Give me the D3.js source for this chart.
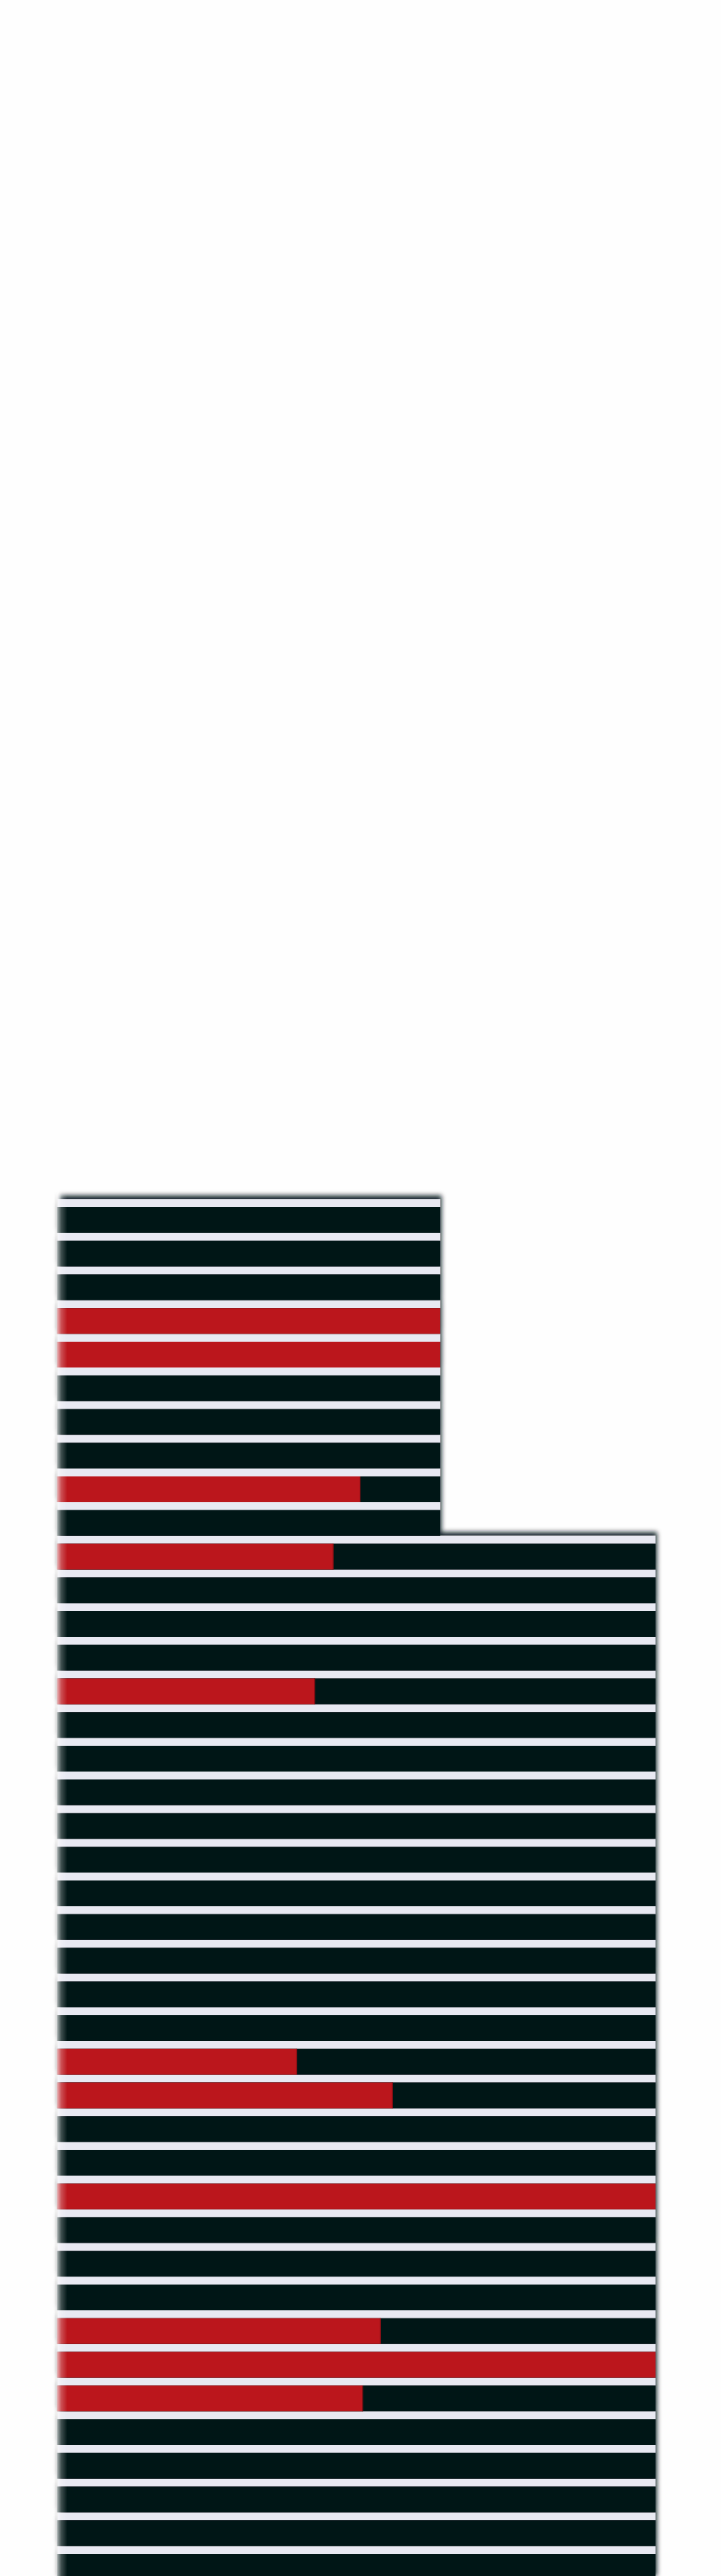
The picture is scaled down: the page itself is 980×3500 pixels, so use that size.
<!DOCTYPE html>
<html><head><meta charset="utf-8">
<script src="https://cdn.jsdelivr.net/npm/d3@7"></script>
<style>html,body{margin:0;padding:0;background:#fefefe;} svg{display:block;}</style>
</head><body>
<svg id="chart" width="980" height="3500"></svg>
<script>
// ---- data ----
const rows = ["R1","R2","R3","R4","R5","R6","R7","R8","R9","R10",
  "R11","R12","R13","R14","R15","R16","R17","R18","R19","R20",
  "R21","R22","R23","R24","R25","R26","R27","R28","R29","R30",
  "R31","R32","R33","R34","R35","R36","R37","R38","R39","R40","R41"];
const totals = [64,64,64,64,64,64,64,64,64,64,
  100,100,100,100,100,100,100,100,100,100,
  100,100,100,100,100,100,100,100,100,100,
  100,100,100,100,100,100,100,100,100,100,100];
const redValues = [0,0,0,64,64,0,0,0,50.7,0,
  46.2,0,0,0,43.1,0,0,0,0,0,
  0,0,0,0,0,40.1,56.1,0,0,100,
  0,0,0,54.1,100,51.1,0,0,0,0,0];
const xDomain = [0, 100];

// ---- colours ----
const DARK = "#061419", RED = "#bb141c", GAP = "#e8e9f2";

const svg = d3.select("#chart");
const x = d3.scaleLinear().domain(xDomain).range([77.5, 891]);
const y = d3.scaleBand().domain(rows).range([1640, 3505]).paddingInner(10.75/45.75).paddingOuter(0);
const gapH = y.step() - y.bandwidth();

const defs = svg.append("defs");
const f = defs.append("filter").attr("id","ds").attr("x","-5%").attr("y","-5%").attr("width","110%").attr("height","110%");
f.append("feGaussianBlur").attr("in","SourceAlpha").attr("stdDeviation",3.2).attr("result","bl");
f.append("feOffset").attr("in","bl").attr("dx",2).attr("dy",-5).attr("result","off");
f.append("feFlood").attr("flood-color",DARK).attr("flood-opacity",0.92).attr("result","fl");
f.append("feComposite").attr("in","fl").attr("in2","off").attr("operator","in").attr("result","sh");
const m = f.append("feMerge");
m.append("feMergeNode").attr("in","sh");
m.append("feMergeNode").attr("in","SourceGraphic");

const lg = defs.append("linearGradient").attr("id","fade").attr("x1","0").attr("x2","1").attr("y1","0").attr("y2","0");
lg.append("stop").attr("offset","0%").attr("stop-color","#ffffff").attr("stop-opacity",0.75);
lg.append("stop").attr("offset","45%").attr("stop-color","#ffffff").attr("stop-opacity",0.25);
lg.append("stop").attr("offset","100%").attr("stop-color","#ffffff").attr("stop-opacity",0);

const data = rows.map((r,i)=>({r, total: totals[i], red: redValues[i]}));

const g = svg.append("g").attr("filter","url(#ds)");
// gap strips (light)
g.selectAll("rect.gap").data(data).join("rect").attr("class","gap")
  .attr("x", x(0) + 1.3)
  .attr("y", d => y(d.r) - gapH)
  .attr("width", d => x(d.total) - x(0) - 1.3)
  .attr("height", gapH)
  .attr("fill", GAP);
// full (dark) bars
g.selectAll("rect.tot").data(data).join("rect").attr("class","tot")
  .attr("x", x(0))
  .attr("y", d => y(d.r))
  .attr("width", d => x(d.total) - x(0))
  .attr("height", y.bandwidth())
  .attr("fill", DARK);
// red bars
g.selectAll("rect.red").data(data.filter(d=>d.red>0)).join("rect").attr("class","red")
  .attr("x", x(0))
  .attr("y", d => y(d.r))
  .attr("width", d => x(d.red) - x(0))
  .attr("height", y.bandwidth())
  .attr("fill", RED);
// subtle dark edge at end of partial red bars
svg.selectAll("line.edge").data(data.filter(d=>d.red>0 && d.red<d.total)).join("line").attr("class","edge")
  .attr("x1", d => x(d.red) - 0.5).attr("x2", d => x(d.red) - 0.5)
  .attr("y1", d => y(d.r)).attr("y2", d => y(d.r) + y.bandwidth())
  .attr("stroke", "#7a0e14").attr("stroke-width", 1);

// left edge fade
svg.append("rect")
  .attr("x", x(0) - 1).attr("y", y(rows[0]) - gapH - 12)
  .attr("width", 15).attr("height", 3505 - y(rows[0]) + gapH + 12)
  .attr("fill", "url(#fade)");
</script>
</body></html>
